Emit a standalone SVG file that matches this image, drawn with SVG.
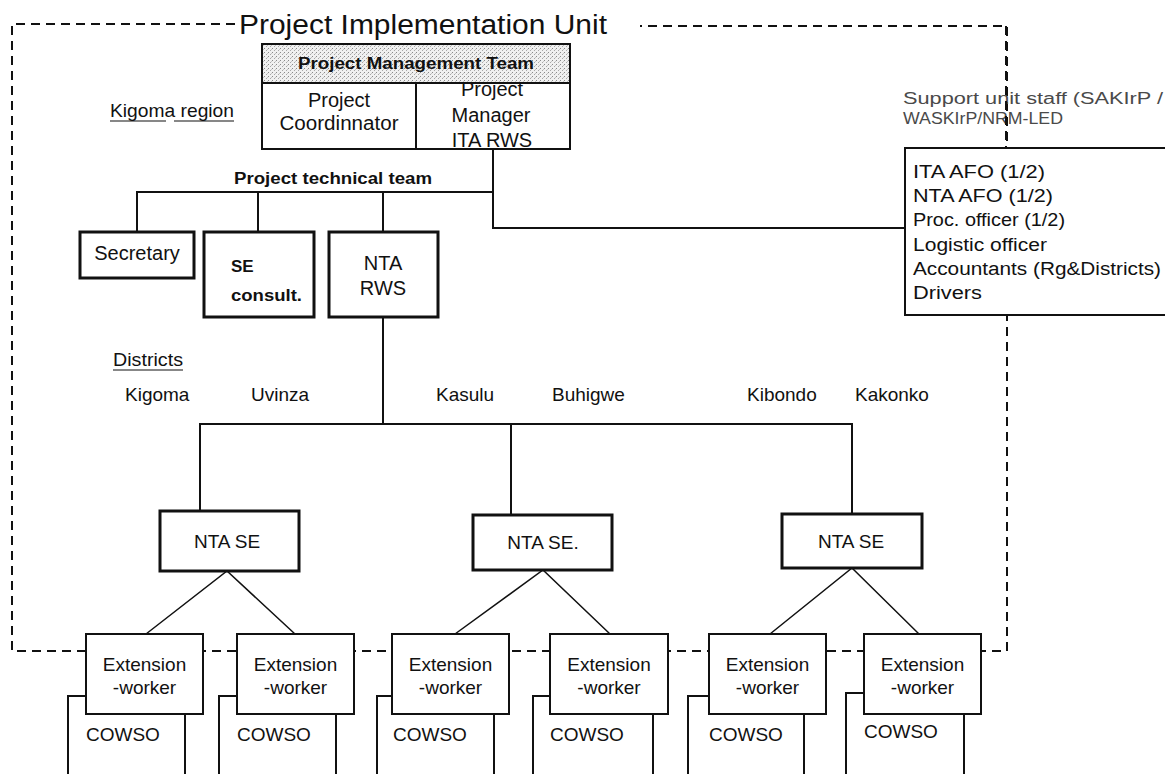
<svg xmlns="http://www.w3.org/2000/svg" width="1165" height="774" viewBox="0 0 1165 774">
  <defs>
    <!-- fine grey stipple used for the management team header -->
    <pattern id="stipple" width="4" height="4" patternUnits="userSpaceOnUse">
      <rect width="4" height="4" fill="#f0f0f0"/>
      <rect x="0" y="0" width="1" height="1" fill="#8a8a8a"/>
      <rect x="2" y="2" width="1" height="1" fill="#a8a8a8"/>
      <rect x="3" y="1" width="1" height="1" fill="#c4c4c4"/>
    </pattern>
    <style>
      text { font-family: "Liberation Sans", Arial, sans-serif; fill: #111; }
      .t19 { font-size: 19px; }
      .t20 { font-size: 20px; }
      .tb { font-weight: bold; }
      .mid { text-anchor: middle; }
      .grey { fill: #4a4a4a; font-size: 16px; }
      .box { fill: #fff; stroke: #111; stroke-width: 2; }
      .box-thick { fill: #fff; stroke: #111; stroke-width: 3; }
      .link { fill: none; stroke: #111; stroke-width: 2; }
      .thin { fill: none; stroke: #111; stroke-width: 1.5; }
      .frame { fill: none; stroke: #111; stroke-width: 2; stroke-dasharray: 9 6; }
      .uline { stroke: #111; stroke-width: 1.2; }
      .cowso { fill: #fff; stroke: #111; stroke-width: 2; }
    </style>
  </defs>

  <rect width="1165" height="774" fill="#fff"/>

  <!-- Project Implementation Unit boundary (dashed) -->
  <g id="piu-frame">
    <path class="frame" d="M235,24 H12 V651 H1007 V26 H640"/>
    <text x="239" y="34" font-size="27" textLength="368" lengthAdjust="spacingAndGlyphs">Project Implementation Unit</text>
  </g>

  <!-- free labels -->
  <g id="label-kigoma-region">
    <text class="t19" x="110" y="117" textLength="124" lengthAdjust="spacingAndGlyphs">Kigoma  region</text>
    <line class="uline" x1="110" y1="121" x2="166" y2="121"/>
    <line class="uline" x1="174" y1="121" x2="234" y2="121"/>
  </g>
  <g id="label-districts">
    <text class="t19" x="113" y="366" textLength="70" lengthAdjust="spacingAndGlyphs">Districts</text>
    <line class="uline" x1="113" y1="370" x2="183" y2="370"/>
  </g>
  <g id="district-names" class="t19">
    <text x="125" y="401">Kigoma</text>
    <text x="251" y="401">Uvinza</text>
    <text x="436" y="401">Kasulu</text>
    <text x="552" y="401">Buhigwe</text>
    <text x="747" y="401">Kibondo</text>
    <text x="855" y="401">Kakonko</text>
  </g>
  <g id="label-support">
    <text class="grey" x="903" y="104" textLength="260" lengthAdjust="spacingAndGlyphs">Support unit staff (SAKIrP /</text>
    <text class="grey" x="903" y="124" textLength="160" lengthAdjust="spacingAndGlyphs">WASKIrP/NRM-LED</text>
  </g>
  <g id="label-technical-team">
    <text class="tb" x="234" y="184" font-size="16" textLength="198" lengthAdjust="spacingAndGlyphs">Project technical team</text>
  </g>

  <!-- connectors -->
  <g id="connectors">
    <path class="link" d="M493,149 V228 H905"/>
    <path class="link" d="M137,232 V192 H493"/>
    <path class="link" d="M258,192 V232"/>
    <path class="link" d="M383,192 V232"/>
    <path class="link" d="M383,317 V424"/>
    <path class="link" d="M200,511 V424 H852 V514"/>
    <path class="link" d="M511,424 V515"/>
    <path class="thin" d="M146,634 L227,571 L295,634"/>
    <path class="thin" d="M455,634 L543,570 L610,634"/>
    <path class="thin" d="M770,634 L852,568 L919,634"/>
  </g>

  <!-- right part of the dashed boundary, over the support label -->
  <path class="frame" d="M1006,26 V148"/>

  <!-- Project Management Team -->
  <g id="pmt">
    <rect class="box" x="262" y="44" width="308" height="105"/>
    <text class="t20 mid" x="339" y="107">Project</text>
    <text class="t20 mid" x="339" y="130" textLength="119" lengthAdjust="spacingAndGlyphs">Coordinnator</text>
    <text class="t20 mid" x="492" y="96">Project</text>
    <text class="t20 mid" x="491" y="122">Manager</text>
    <text class="t20 mid" x="492" y="147">ITA RWS</text>
    <rect x="262" y="44" width="308" height="39" fill="url(#stipple)" stroke="#111" stroke-width="2"/>
    <text class="tb mid" x="416" y="69" font-size="16" textLength="236" lengthAdjust="spacingAndGlyphs">Project Management Team</text>
    <line x1="416" y1="83" x2="416" y2="149" stroke="#111" stroke-width="2"/>
  </g>

  <!-- Support unit staff -->
  <g id="support-staff">
    <rect class="box" x="905" y="148" width="262" height="167"/>
    <text x="913" y="178" font-size="18" textLength="132" lengthAdjust="spacingAndGlyphs">ITA AFO (1/2)</text>
    <text x="913" y="202" font-size="18" textLength="140" lengthAdjust="spacingAndGlyphs">NTA AFO (1/2)</text>
    <text x="913" y="226" font-size="18" textLength="152" lengthAdjust="spacingAndGlyphs">Proc. officer (1/2)</text>
    <text x="913" y="251" font-size="18" textLength="134" lengthAdjust="spacingAndGlyphs">Logistic officer</text>
    <text x="913" y="275" font-size="18" textLength="248" lengthAdjust="spacingAndGlyphs">Accountants (Rg&amp;Districts)</text>
    <text x="913" y="299" font-size="18" textLength="69" lengthAdjust="spacingAndGlyphs">Drivers</text>
  </g>

  <!-- Technical team -->
  <g id="secretary">
    <rect class="box-thick" x="80" y="232" width="114" height="46"/>
    <text class="t20 mid" x="137" y="260">Secretary</text>
  </g>
  <g id="se-consult">
    <rect class="box-thick" x="204" y="232" width="110" height="85"/>
    <text class="tb" x="231" y="272" font-size="17">SE</text>
    <text class="tb" x="231" y="301" font-size="17" textLength="71" lengthAdjust="spacingAndGlyphs">consult.</text>
  </g>
  <g id="nta-rws">
    <rect class="box-thick" x="329" y="232" width="109" height="85"/>
    <text class="t20 mid" x="383" y="270">NTA</text>
    <text class="t20 mid" x="383" y="295">RWS</text>
  </g>

  <!-- District supervising engineers -->
  <g id="nta-se-1">
    <rect class="box-thick" x="160" y="511" width="139" height="60"/>
    <text class="t19 mid" x="227" y="548">NTA SE</text>
  </g>
  <g id="nta-se-2">
    <rect class="box-thick" x="473" y="515" width="139" height="55"/>
    <text class="t19 mid" x="543" y="549">NTA SE.</text>
  </g>
  <g id="nta-se-3">
    <rect class="box-thick" x="782" y="514" width="140" height="54"/>
    <text class="t19 mid" x="851" y="548">NTA SE</text>
  </g>

  <!-- Extension workers with their COWSO -->
  <g id="ext-1">
    <rect class="cowso" x="68" y="696" width="117" height="110"/>
    <text class="t19" x="86" y="741">COWSO</text>
    <rect class="box" x="86" y="634" width="117" height="80"/>
    <text class="t19 mid" x="144.5" y="671">Extension</text>
    <text class="t19 mid" x="144.5" y="694">-worker</text>
  </g>
  <g id="ext-2">
    <rect class="cowso" x="219" y="696" width="117" height="110"/>
    <text class="t19" x="237" y="741">COWSO</text>
    <rect class="box" x="237" y="634" width="117" height="80"/>
    <text class="t19 mid" x="295.5" y="671">Extension</text>
    <text class="t19 mid" x="295.5" y="694">-worker</text>
  </g>
  <g id="ext-3">
    <rect class="cowso" x="377" y="696" width="117" height="110"/>
    <text class="t19" x="393" y="741">COWSO</text>
    <rect class="box" x="392" y="634" width="117" height="80"/>
    <text class="t19 mid" x="450.5" y="671">Extension</text>
    <text class="t19 mid" x="450.5" y="694">-worker</text>
  </g>
  <g id="ext-4">
    <rect class="cowso" x="533" y="696" width="120" height="110"/>
    <text class="t19" x="550" y="741">COWSO</text>
    <rect class="box" x="550" y="634" width="118" height="80"/>
    <text class="t19 mid" x="609" y="671">Extension</text>
    <text class="t19 mid" x="609" y="694">-worker</text>
  </g>
  <g id="ext-5">
    <rect class="cowso" x="688" y="696" width="116" height="110"/>
    <text class="t19" x="709" y="741">COWSO</text>
    <rect class="box" x="709" y="634" width="117" height="80"/>
    <text class="t19 mid" x="767.5" y="671">Extension</text>
    <text class="t19 mid" x="767.5" y="694">-worker</text>
  </g>
  <g id="ext-6">
    <rect class="cowso" x="846" y="693" width="118" height="110"/>
    <text class="t19" x="864" y="738">COWSO</text>
    <rect class="box" x="864" y="634" width="117" height="80"/>
    <text class="t19 mid" x="922.5" y="671">Extension</text>
    <text class="t19 mid" x="922.5" y="694">-worker</text>
  </g>
</svg>
